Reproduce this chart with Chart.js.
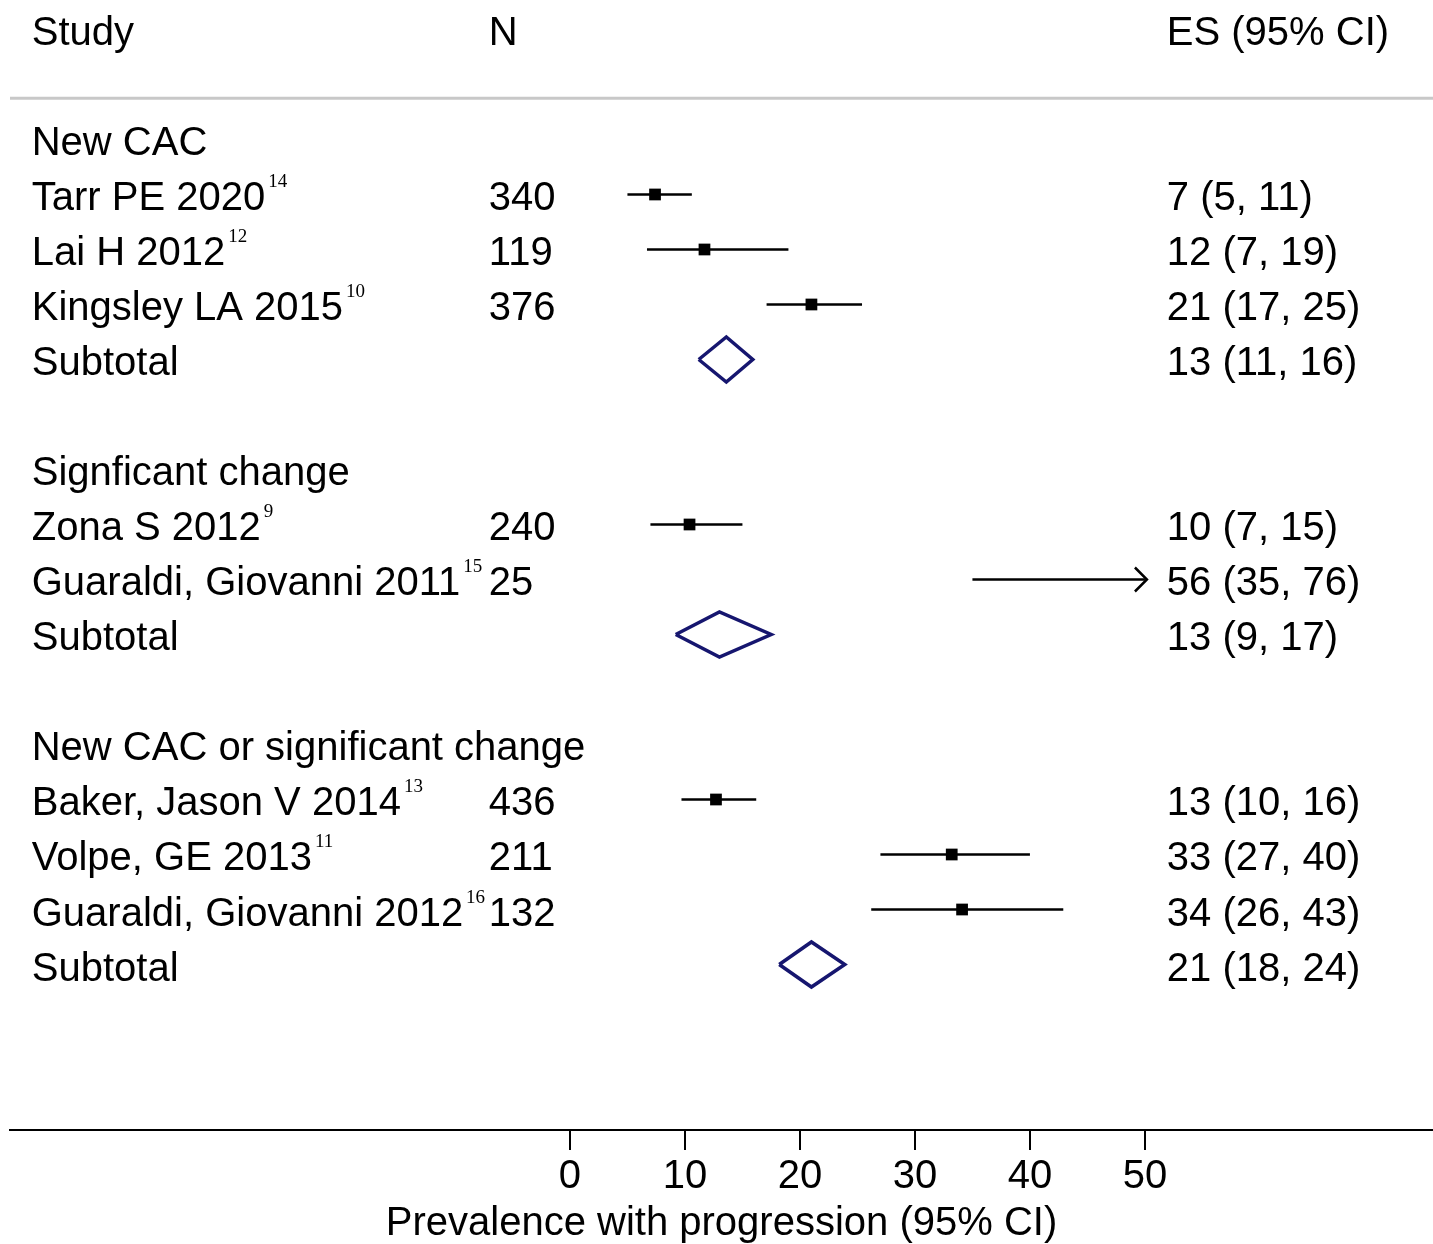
<!DOCTYPE html>
<html lang="en">
<head>
  <meta charset="UTF-8">
  <title>Prevalence with progression - forest plot</title>
  <script src="https://cdn.jsdelivr.net/npm/chart.js"></script>
  <style>
    html, body { margin: 0; padding: 0; background: #fff; }
    canvas { display: block; }
  </style>
</head>
<body>
  <canvas id="forest" width="1433" height="1244"></canvas>

  <script>
    // Filas del forest plot (una entrada por fila, de arriba abajo)
    const rowLabels = ['New CAC', 'Tarr PE 2020', 'Lai H 2012', 'Kingsley LA 2015', 'Subtotal', '',
      'Signficant change', 'Zona S 2012', 'Guaraldi, Giovanni 2011', 'Subtotal', '',
      'New CAC or significant change', 'Baker, Jason V 2014', 'Volpe, GE 2013', 'Guaraldi, Giovanni 2012', 'Subtotal'];
    const rowKinds = ['group', 'study', 'study', 'study', 'subtotal', 'blank',
      'group', 'study', 'study', 'subtotal', 'blank',
      'group', 'study', 'study', 'study', 'subtotal'];
    const refNums = ['', '14', '12', '10', '', '', '', '9', '15', '', '', '', '13', '11', '16', ''];
    const sampleN = [null, 340, 119, 376, null, null, null, 240, 25, null, null, null, 436, 211, 132, null];
    const estimate = [null, 7.4, 11.7, 21.0, 13.6, null, null, 10.4, 56, 13.0, null, null, 12.7, 33.2, 34.1, 21.0];
    const ciLow = [null, 5.0, 6.7, 17.1, 11.2, null, null, 7.0, 35.0, 9.2, null, null, 9.7, 27.0, 26.2, 18.2];
    const ciHigh = [null, 10.6, 19.0, 25.4, 15.9, null, null, 15.0, 76, 17.5, null, null, 16.2, 40.0, 42.9, 23.9];
    const esLabels = ['', '7 (5, 11)', '12 (7, 19)', '21 (17, 25)', '13 (11, 16)', '',
      '', '10 (7, 15)', '56 (35, 76)', '13 (9, 17)', '',
      '', '13 (10, 16)', '33 (27, 40)', '34 (26, 43)', '21 (18, 24)'];
    const headers = ['Study', 'N', 'ES (95% CI)'];
    const xTicks = [0, 10, 20, 30, 40, 50];
    const xTitle = 'Prevalence with progression (95% CI)';

    // Rango visible del eje y columnas de texto (en unidades del eje x)
    const plotMax = 50;
    const colStudy = -46.8;
    const colN = -7.05;
    const colES = 51.9;
    const headerRow = -2;
    const ruleRow = -0.75;

    const FONT = '"Liberation Sans", Arial, Helvetica, sans-serif';
    const SUP_FONT = '"Liberation Serif", "Times New Roman", serif';
    const NAVY = '#16166f';
    const TEXT_SIZE = 40;

    // Líneas de IC por estudio (recortadas en el máximo del eje)
    const ciDatasets = rowKinds.map((kind, i) => kind !== 'study' ? null : {
      data: [{ x: ciLow[i], y: i }, { x: Math.min(ciHigh[i], plotMax), y: i }],
      showLine: true,
      borderColor: '#000',
      borderWidth: 2.5,
      pointRadius: 0
    }).filter(Boolean);

    // Estimaciones puntuales
    const pointDataset = {
      data: rowKinds.map((kind, i) => ({ kind, i }))
        .filter(r => r.kind === 'study' && estimate[r.i] <= plotMax)
        .map(r => ({ x: estimate[r.i], y: r.i })),
      pointStyle: 'rect',
      pointRadius: 8.3,
      backgroundColor: '#000',
      borderWidth: 0,
      showLine: false
    };

    // Rombos de los subtotales
    const diamondDatasets = rowKinds.map((kind, i) => kind !== 'subtotal' ? null : {
      data: [
        { x: ciLow[i], y: i },
        { x: estimate[i], y: i - 0.41 },
        { x: ciHigh[i], y: i },
        { x: estimate[i], y: i + 0.41 },
        { x: ciLow[i], y: i }
      ],
      showLine: true,
      borderColor: NAVY,
      borderWidth: 3.5,
      borderJoinStyle: 'miter',
      pointRadius: 0,
      tension: 0,
      fill: false
    }).filter(Boolean);

    // Plugin para textos, línea de cabecera y flechas
    const forestText = {
      id: 'forestText',
      afterDatasetsDraw(chart) {
        const { ctx, chartArea, scales: { x, y } } = chart;
        const mainFont = TEXT_SIZE + 'px ' + FONT;
        ctx.save();
        ctx.fillStyle = '#000';
        ctx.textBaseline = 'alphabetic';
        ctx.textAlign = 'left';
        ctx.font = mainFont;

        // Cabecera
        const hy = y.getPixelForValue(headerRow) + 16;
        ctx.fillText(headers[0], x.getPixelForValue(colStudy), hy);
        ctx.fillText(headers[1], x.getPixelForValue(colN), hy);
        ctx.fillText(headers[2], x.getPixelForValue(colES), hy);

        // Línea gris bajo la cabecera
        const ry = y.getPixelForValue(ruleRow);
        ctx.strokeStyle = '#c8c8c8';
        ctx.lineWidth = 3;
        ctx.beginPath();
        ctx.moveTo(chartArea.left, ry);
        ctx.lineTo(chartArea.right, ry);
        ctx.stroke();

        rowLabels.forEach((label, i) => {
          if (!label) return;
          const py = y.getPixelForValue(i) + 16;
          const lx = x.getPixelForValue(colStudy);
          ctx.font = mainFont;
          ctx.fillText(label, lx, py);
          if (refNums[i]) {
            const w = ctx.measureText(label).width;
            ctx.font = '19px ' + SUP_FONT;
            ctx.fillText(refNums[i], lx + w + 3, py - 23);
            ctx.font = mainFont;
          }
          if (sampleN[i] !== null) ctx.fillText(String(sampleN[i]), x.getPixelForValue(colN), py);
          if (esLabels[i]) ctx.fillText(esLabels[i], x.getPixelForValue(colES), py);
        });

        // Flecha cuando el IC supera el eje
        ctx.strokeStyle = '#000';
        ctx.lineWidth = 2.5;
        rowKinds.forEach((kind, i) => {
          if (kind !== 'study' || ciHigh[i] <= plotMax) return;
          const tx = x.getPixelForValue(plotMax) + 2;
          const ty = y.getPixelForValue(i);
          ctx.beginPath();
          ctx.moveTo(tx - 12, ty - 12);
          ctx.lineTo(tx, ty);
          ctx.lineTo(tx - 12, ty + 12);
          ctx.stroke();
        });
        ctx.restore();
      }
    };

    new Chart(document.getElementById('forest'), {
      type: 'scatter',
      data: { datasets: [...ciDatasets, pointDataset, ...diamondDatasets] },
      options: {
        responsive: false,
        animation: false,
        devicePixelRatio: 1,
        layout: { autoPadding: false, padding: { left: 10, right: 0, top: 0, bottom: 0 } },
        plugins: { legend: { display: false }, tooltip: { enabled: false } },
        scales: {
          x: {
            type: 'linear',
            position: 'bottom',
            min: -48.69,
            max: 75.05,
            afterBuildTicks: scale => { scale.ticks = xTicks.map(v => ({ value: v })); },
            grid: { drawOnChartArea: false, drawTicks: true, tickLength: 20, lineWidth: 2, color: '#000' },
            border: { display: true, color: '#000', width: 2 },
            ticks: { color: '#000', padding: 5, font: { family: FONT, size: TEXT_SIZE, lineHeight: 1.1 }, maxRotation: 0, autoSkip: false },
            title: { display: true, text: xTitle, color: '#000', font: { family: FONT, size: TEXT_SIZE, lineHeight: 1 }, padding: { top: 0, bottom: 0 } }
          },
          y: {
            type: 'linear',
            display: false,
            reverse: true,
            min: -2.536,
            max: 18.009
          }
        }
      },
      plugins: [forestText]
    });
  </script>
</body>
</html>
